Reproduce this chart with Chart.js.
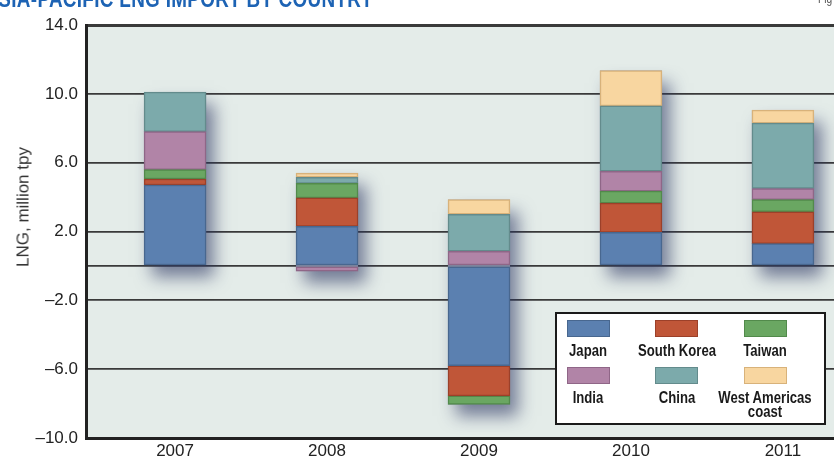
<!DOCTYPE html>
<html>
<head>
<meta charset="utf-8">
<script src="https://cdn.jsdelivr.net/npm/chart.js@4.4.1/dist/chart.umd.min.js"></script>
<style>
  html, body { margin: 0; padding: 0; background: #fff; overflow: hidden; }
  #wrap { position: relative; width: 834px; height: 458px; overflow: hidden; }
  #myChart { position: absolute; left: 0; top: 0; }
  /* condensed look by horizontal squeeze */
  #title {
    position: absolute; right: 461px; top: -12px; white-space: nowrap;
    font: bold 23px/23px "Liberation Sans", Arial, sans-serif;
    color: #1d63b4; letter-spacing: 0.4px;
    transform: scaleX(0.82); transform-origin: right center;
  }
  #fig {
    position: absolute; left: 818px; top: -7px; white-space: nowrap;
    font: 12px/12px "Liberation Sans", Arial, sans-serif; color: #555;
    transform: scaleX(0.85); transform-origin: left center;
  }
  #ytitle {
    position: absolute; left: 23px; top: 207px; white-space: nowrap;
    transform: translate(-50%, -50%) rotate(-90deg);
    font: 17px/17px "Liberation Sans", Arial, sans-serif; color: #333;
  }
  #legend {
    position: absolute; left: 555px; top: 312px; width: 267px; height: 109px;
    border: 2px solid #1a1a1a; background: #fff;
  }
  .item { position: absolute; width: 100px; text-align: center; }
  .swatch { width: 41px; height: 15px; margin: 0 auto; border: 1px solid; }
  .name {
    width: 130px; margin: 7px 0 0 -15px; text-align: center;
    font: bold 16px/14px "Liberation Sans", Arial, sans-serif; color: #1a1a1a;
    transform: scaleX(0.82); transform-origin: center top;
  }
</style>
</head>
<body>
<div id="wrap">
  <canvas id="myChart" width="834" height="458"></canvas>
  <div id="title">ASIA-PACIFIC LNG IMPORT BY COUNTRY</div>
  <div id="fig">Fig</div>
  <div id="ytitle">LNG, million tpy</div>
  <div id="legend"></div>
</div>
<script>
// LNG imports by destination, million tpy
var years = [2007, 2008, 2009, 2010, 2011];
var japan = [4.7, 2.3, -5.8, 1.95, 1.3];
var southKorea = [0.35, 1.65, -1.75, 1.7, 1.85];
var taiwan = [0.55, 0.85, -0.5, 0.7, 0.7];
var india = [2.2, -0.3, 0.85, 1.15, 0.65];
var china = [2.3, 0.35, 2.15, 3.8, 3.8];
var westAmericas = [0, 0.25, 0.85, 2.05, 0.75];
var yTicks = [14, 10, 6, 2, 0, -2, -6, -10];

var seriesNames = ['Japan', 'South Korea', 'Taiwan', 'India', 'China', 'West Americas coast'];
var seriesValues = [japan, southKorea, taiwan, india, china, westAmericas];
var fills = ['#5b80b0', '#c05638', '#6aa762', '#b184a7', '#7caaab', '#f8d6a0'];
var edges = ['#48678f', '#9c4029', '#528a4b', '#8f6687', '#638b8c', '#d8b27a'];

var datasets = seriesValues.map(function (vals, d) {
    return {
        label: seriesNames[d],
        data: years.map(function (yr, i) { return { x: yr, y: vals[i] }; }),
        backgroundColor: fills[d],
        borderColor: edges[d],
        borderWidth: 1.5,
        borderSkipped: false,
        barThickness: 62
    };
});

// plot panel background
var panel = {
    id: 'panel',
    beforeDraw: function (chart) {
        var a = chart.chartArea, ctx = chart.ctx;
        ctx.save();
        ctx.fillStyle = '#e4ece9';
        ctx.fillRect(a.left, a.top, a.right - a.left, a.bottom - a.top);
        ctx.restore();
    }
};

// soft drop shadow behind each stacked column
var barShadow = {
    id: 'barShadow',
    beforeDatasetsDraw: function (chart) {
        var a = chart.chartArea, ctx = chart.ctx;
        ctx.save();
        ctx.beginPath();
        ctx.rect(a.left, a.top, a.right - a.left, a.bottom - a.top);
        ctx.clip();
        ctx.shadowColor = 'rgba(40, 50, 95, 0.6)';
        ctx.shadowBlur = 16;
        ctx.shadowOffsetX = 8;
        ctx.shadowOffsetY = 12;
        ctx.fillStyle = '#7d869e';
        years.forEach(function (yr, i) {
            var top = Infinity, bottom = -Infinity, cx = 0, w = 0;
            chart.data.datasets.forEach(function (ds, d) {
                var bar = chart.getDatasetMeta(d).data[i];
                if (!bar || ds.data[i].y === 0) return;
                top = Math.min(top, bar.y, bar.base);
                bottom = Math.max(bottom, bar.y, bar.base);
                cx = bar.x; w = bar.width;
            });
            if (top < bottom) ctx.fillRect(cx - w / 2, top, w, bottom - top);
        });
        ctx.restore();
    }
};

var ctx = document.getElementById('myChart');
var myChart = new Chart(ctx, {
    type: 'bar',
    data: { datasets: datasets },
    plugins: [panel, barShadow],
    options: {
        responsive: false,
        animation: false,
        layout: { padding: { top: 25, left: 0, right: 0, bottom: 0 } },
        plugins: { legend: { display: false }, tooltip: { enabled: false } },
        scales: {
            x: {
                type: 'linear',
                stacked: true,
                offset: false,
                min: 2006.414,
                max: 2011.336,
                afterBuildTicks: function (scale) {
                    scale.ticks = years.map(function (v) { return { value: v }; });
                },
                afterFit: function (scale) { scale.height = 20; },
                grid: { display: false, drawTicks: false },
                border: { display: true, width: 3, color: '#222' },
                ticks: {
                    padding: 3,
                    color: '#222',
                    font: { family: 'Liberation Sans, Arial, sans-serif', size: 17 },
                    callback: function (v) { return String(v); }
                }
            },
            y: {
                stacked: true,
                min: -10,
                max: 14,
                afterBuildTicks: function (scale) {
                    scale.ticks = yTicks.map(function (v) { return { value: v }; });
                },
                afterFit: function (scale) { scale.width = 86; },
                grid: {
                    drawTicks: false,
                    color: '#3a3a3a',
                    lineWidth: function (c) { return c.tick && c.tick.value === 14 ? 3 : 1.8; }
                },
                border: { display: true, width: 3, color: '#222' },
                ticks: {
                    padding: 8,
                    color: '#222',
                    font: { family: 'Liberation Sans, Arial, sans-serif', size: 17 },
                    callback: function (v) {
                        if (v === 0) return '';
                        return v.toFixed(1).replace('-', '\u2013');
                    }
                }
            }
        }
    }
});

// legend: swatch above name, three per row
var legendBox = document.getElementById('legend');
seriesNames.forEach(function (name, d) {
    var col = d % 3, row = Math.floor(d / 3);
    var item = document.createElement('div');
    item.className = 'item';
    item.style.left = (31 + col * 88.5 - 50) + 'px';
    item.style.top = (6 + row * 47) + 'px';
    var sw = document.createElement('div');
    sw.className = 'swatch';
    sw.style.background = fills[d];
    sw.style.borderColor = edges[d];
    var label = document.createElement('div');
    label.className = 'name';
    label.textContent = name;
    item.appendChild(sw);
    item.appendChild(label);
    legendBox.appendChild(item);
});
</script>
</body>
</html>
